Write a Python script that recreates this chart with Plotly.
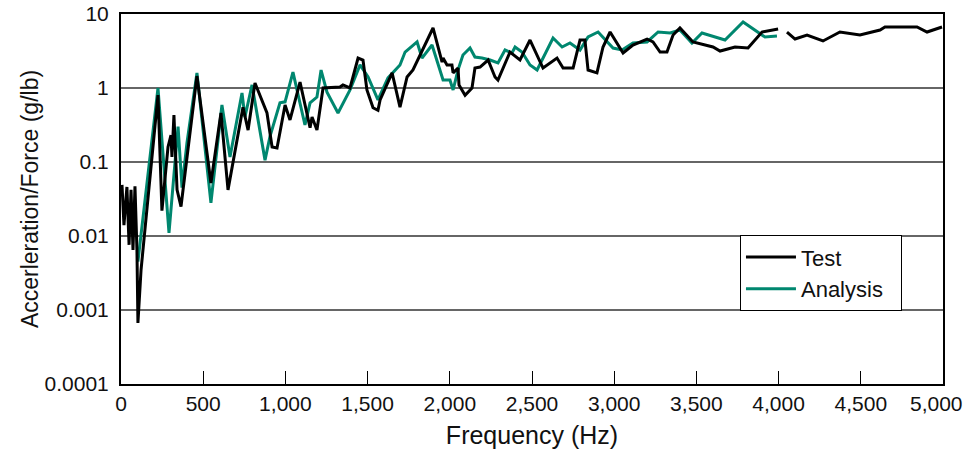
import plotly.graph_objects as go

# Test (measured) FRF
test_freq = [6, 18, 36, 49, 61, 73, 85, 97, 103, 122, 225, 249, 286, 304, 310, 322, 341, 365,
             462, 547, 608, 651, 742, 773, 815, 888, 919, 949, 998, 1028, 1089, 1150, 1162,
             1192, 1229, 1332, 1350, 1393, 1442, 1472, 1496, 1533, 1563, 1576, 1649, 1697,
             1740, 1776, 1898, 1953, 1959, 1983, 2013, 2020, 2050, 2056, 2093, 2135, 2153,
             2184, 2233, 2275, 2293, 2366, 2427, 2488, 2567, 2652, 2689, 2750, 2792, 2822,
             2841, 2895, 2932, 2975, 3054, 3114, 3200, 3236, 3279, 3321, 3358, 3400, 3479,
             3601, 3644, 3735, 3814, 3899, 3997, None, 4051, 4100, 4173, 4270, 4373, 4495,
             4617, 4647, 4842, 4903, 4994]
test_val = [0.049, 0.014, 0.046, 0.0076, 0.042, 0.0065, 0.047, 0.0065, 0.00067, 0.0035, 0.80,
            0.022, 0.16, 0.23, 0.117, 0.43, 0.042, 0.025, 1.45, 0.052, 0.46, 0.042, 0.55, 0.27,
            1.17, 0.46, 0.16, 0.155, 0.59, 0.37, 1.2, 0.29, 0.405, 0.27, 1.0, 1.03, 1.10, 1.0,
            2.54, 2.39, 0.94, 0.54, 0.50, 0.69, 1.6, 0.55, 1.41, 1.75, 6.47, 2.24, 2.54, 2.05,
            2.05, 1.6, 1.86, 1.10, 0.80, 1.0, 1.86, 1.92, 2.39, 1.41, 1.28, 3.06, 2.39, 4.45,
            1.86, 2.54, 1.86, 1.86, 4.45, 4.45, 1.75, 1.6, 3.58, 5.71, 2.97, 3.81, 4.59, 4.19,
            3.06, 3.06, 5.2, 6.47, 4.19, 3.58, 3.16, 3.58, 3.47, 5.71, 6.27, None, 5.71, 4.59,
            5.2, 4.32, 5.71, 5.2, 6.08, 6.67, 6.67, 5.71, 6.67]

# Analysis FRF
ana_freq = [103, 225, 292, 347, 371, 401, 462, 547, 614, 663, 736, 754, 797, 876, 906, 967,
            998, 1046, 1119, 1150, 1192, 1217, 1253, 1320, 1393, 1454, 1503, 1563, 1624, 1697,
            1728, 1801, 1831, 1892, 1959, 2001, 2020, 2050, 2080, 2123, 2153, 2196, 2245, 2293,
            2336, 2378, 2397, 2439, 2488, 2531, 2628, 2683, 2731, 2792, 2841, 2902, 2993, 3048,
            3114, 3200, 3267, 3340, 3400, 3473, 3534, 3674, 3784, 3917, 3990]
ana_val = [0.0045, 1.0, 0.011, 0.30, 0.045, 0.18, 1.6, 0.028, 0.59, 0.117, 0.855, 0.405, 1.10,
           0.106, 0.22, 0.63, 0.65, 1.64, 0.316, 0.63, 0.755, 1.75, 0.88, 0.46, 0.94, 2.05, 1.41,
           0.69, 1.37, 2.05, 3.06, 4.19, 2.54, 3.81, 1.28, 1.28, 0.94, 1.75, 2.79, 3.47, 2.62,
           2.54, 2.39, 2.18, 3.26, 2.97, 3.58, 3.06, 2.05, 1.75, 4.74, 3.58, 4.06, 3.26, 4.89,
           5.71, 3.47, 3.26, 4.06, 4.19, 5.71, 5.54, 6.08, 4.06, 5.54, 4.45, 7.8, 4.89, 5.04]

x_ticks = [0, 500, 1000, 1500, 2000, 2500, 3000, 3500, 4000, 4500, 5000]
x_tick_text = ["0", "500", "1,000", "1,500", "2,000", "2,500", "3,000", "3,500", "4,000",
               "4,500", "5,000"]
y_ticks = [0.0001, 0.001, 0.01, 0.1, 1, 10]
y_tick_text = ["0.0001", "0.001", "0.01", "0.1", "1", "10"]

FONT = "Liberation Sans, Arial, sans-serif"
PAD = "\u00a0\u00a0"

fig = go.Figure()
fig.add_trace(go.Scatter(x=ana_freq, y=ana_val, mode="lines", name="Analysis" + PAD,
                         line=dict(color="#00876F", width=3), showlegend=True))
fig.add_trace(go.Scatter(x=test_freq, y=test_val, mode="lines", name="Test",
                         line=dict(color="#000000", width=3), connectgaps=False))

# last x tick label is drawn right-aligned at the axis end so it stays inside the page
shown_x_text = x_tick_text[:-1] + [""]
fig.add_annotation(x=x_ticks[-1], xref="x", y=0, yref="paper", yanchor="top",
                   xanchor="right", text=x_tick_text[-1], showarrow=False,
                   xshift=22, yshift=-6, font=dict(family=FONT, size=21, color="#111"))

fig.update_layout(
    width=969, height=453,
    margin=dict(l=121, r=26, t=14, b=69),
    paper_bgcolor="white", plot_bgcolor="white",
    font=dict(family=FONT, size=21, color="#111"),
    legend=dict(x=0.753, y=0.402, xanchor="left", yanchor="top",
                bordercolor="#000", borderwidth=1, bgcolor="white",
                font=dict(size=22), traceorder="reversed",
                itemwidth=50, tracegroupgap=0),
    xaxis=dict(range=[0, 5000], tickvals=x_ticks, ticktext=shown_x_text,
               ticks="inside", ticklen=13, tickwidth=1, tickcolor="#000",
               showline=True, linewidth=2, linecolor="#000", mirror=True,
               showgrid=False, zeroline=False, automargin=False,
               title=dict(text="Frequency (Hz)", standoff=12),
               tickfont=dict(size=21)),
    yaxis=dict(type="log", range=[-4, 1], tickvals=y_ticks, ticktext=y_tick_text,
               ticks="", showline=True, linewidth=2, linecolor="#000", mirror=True,
               showgrid=True, gridcolor="#666", gridwidth=1.5, zeroline=False,
               ticklabelstandoff=6, automargin=False,
               title=dict(text="Accerleration/Force (g/lb)", standoff=0, font=dict(size=23)),
               tickfont=dict(size=21)),
)

fig.write_html("out.html")
